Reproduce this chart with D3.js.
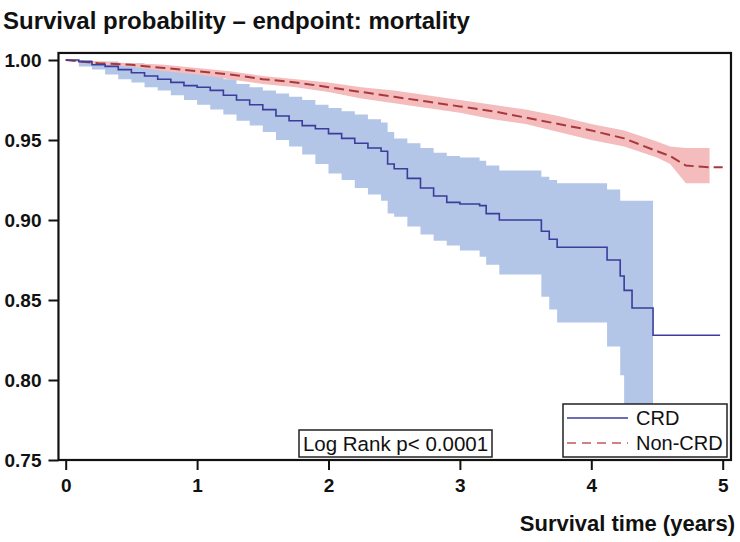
<!DOCTYPE html>
<html>
<head>
<meta charset="utf-8">
<script src="https://cdn.jsdelivr.net/npm/d3@7"></script>
<style>
  body { margin: 0; background: #fff; }
  text { font-family: "Liberation Sans", Arial, sans-serif; }
</style>
</head>
<body>
<div id="chart"></div>
<script>
// Kaplan-Meier estimates
var crdTime  = [0, 0.1, 0.2, 0.3, 0.4, 0.5, 0.6, 0.7, 0.8, 0.9, 1.0, 1.1, 1.2, 1.3, 1.4, 1.5, 1.6, 1.7, 1.8, 1.9, 2.0, 2.1, 2.2, 2.3, 2.4, 2.45, 2.5, 2.6, 2.7, 2.8, 2.9, 3.0, 3.15, 3.2, 3.3, 3.62, 3.68, 3.74, 4.12, 4.22, 4.25, 4.31, 4.47, 4.98];
var crdSurv  = [1.000, 0.999, 0.997, 0.996, 0.994, 0.992, 0.990, 0.988, 0.986, 0.984, 0.983, 0.981, 0.978, 0.975, 0.972, 0.969, 0.965, 0.962, 0.959, 0.957, 0.954, 0.951, 0.948, 0.945, 0.943, 0.935, 0.932, 0.926, 0.920, 0.915, 0.911, 0.910, 0.909, 0.904, 0.900, 0.893, 0.888, 0.883, 0.875, 0.865, 0.856, 0.845, 0.828, 0.828];
var crdLower = [1.000, 0.996, 0.994, 0.991, 0.988, 0.986, 0.983, 0.981, 0.978, 0.975, 0.972, 0.969, 0.966, 0.962, 0.959, 0.955, 0.950, 0.946, 0.941, 0.935, 0.929, 0.925, 0.920, 0.916, 0.912, 0.904, 0.902, 0.896, 0.891, 0.887, 0.884, 0.881, 0.877, 0.872, 0.866, 0.852, 0.844, 0.836, 0.821, 0.803, 0.764, 0.764, 0.764, null];
var crdUpper = [1.000, 1.000, 0.999, 0.999, 0.998, 0.998, 0.997, 0.996, 0.995, 0.994, 0.992, 0.990, 0.988, 0.985, 0.983, 0.981, 0.979, 0.977, 0.975, 0.972, 0.970, 0.968, 0.966, 0.963, 0.961, 0.955, 0.951, 0.948, 0.945, 0.942, 0.940, 0.939, 0.937, 0.934, 0.931, 0.927, 0.925, 0.923, 0.919, 0.912, 0.912, 0.912, 0.912, null];

var nonTime  = [0, 0.25, 0.5, 0.75, 1.0, 1.25, 1.5, 1.75, 2.0, 2.25, 2.5, 2.75, 3.0, 3.25, 3.5, 3.75, 4.0, 4.25, 4.5, 4.6, 4.72, 4.9, 5.0];
var nonSurv  = [1.000, 0.998, 0.997, 0.995, 0.993, 0.991, 0.988, 0.986, 0.983, 0.980, 0.977, 0.974, 0.971, 0.968, 0.964, 0.960, 0.956, 0.951, 0.943, 0.940, 0.934, 0.933, 0.933];
var nonLower = [1.000, 0.997, 0.996, 0.993, 0.991, 0.988, 0.985, 0.983, 0.980, 0.976, 0.973, 0.970, 0.967, 0.963, 0.960, 0.955, 0.950, 0.946, 0.939, 0.935, 0.923, 0.923, null];
var nonUpper = [1.000, 0.999, 0.998, 0.997, 0.995, 0.993, 0.990, 0.988, 0.986, 0.983, 0.981, 0.978, 0.975, 0.972, 0.969, 0.965, 0.960, 0.956, 0.949, 0.946, 0.945, 0.945, null];

var xTicks = [0, 1, 2, 3, 4, 5];
var yTicks = [0.75, 0.80, 0.85, 0.90, 0.95, 1.00];
var seriesNames = ["CRD", "Non-CRD"];

var width = 740, height = 542;

var svg = d3.select("#chart").append("svg")
    .attr("width", width)
    .attr("height", height);

//scales: 0..5 years, 0.75..1.00
var x = d3.scaleLinear().domain([0, 5]).range([65.7, 722.7]);
var y = d3.scaleLinear().domain([0.75, 1.00]).range([460, 60]);

var frame = {left: x(-0.055), right: x(5.063), top: y(1.0044), bottom: y(0.75)};

function rows(t, s, lo, hi) {
    return t.map(function(d, i) { return {t: d, s: s[i], lo: lo[i], hi: hi[i]}; });
}
var crd = rows(crdTime, crdSurv, crdLower, crdUpper);
var non = rows(nonTime, nonSurv, nonLower, nonUpper);

function band(curve) {
    return d3.area()
        .curve(curve)
        .x(function(d) { return x(d.t); })
        .y0(function(d) { return y(d.lo); })
        .y1(function(d) { return y(d.hi); });
}

//bands end at the last event time
svg.append("path")
    .datum(crd.filter(function(d) { return d.lo != null; }))
    .attr("fill", "#b3c6e7")
    .attr("d", band(d3.curveStepAfter));

svg.append("path")
    .datum(non.filter(function(d) { return d.lo != null; }))
    .attr("fill", "#f4bcbc")
    .attr("d", band(d3.curveLinear));

svg.append("path")
    .datum(non)
    .attr("fill", "none")
    .attr("stroke", "#a8383c")
    .attr("stroke-width", 2)
    .attr("stroke-dasharray", "10,5")
    .attr("d", d3.line().x(function(d) { return x(d.t); }).y(function(d) { return y(d.s); }));

svg.append("path")
    .datum(crd)
    .attr("fill", "none")
    .attr("stroke", "#3b3c9c")
    .attr("stroke-width", 1.6)
    .attr("d", d3.line().curve(d3.curveStepAfter).x(function(d) { return x(d.t); }).y(function(d) { return y(d.s); }));

//frame
svg.append("rect")
    .attr("x", frame.left)
    .attr("y", frame.top)
    .attr("width", frame.right - frame.left)
    .attr("height", frame.bottom - frame.top)
    .attr("fill", "none")
    .attr("stroke", "#111")
    .attr("stroke-width", 2.2);

//y axis
var yAxis = svg.append("g")
    .attr("transform", "translate(" + frame.left + ",0)")
    .call(d3.axisLeft(y).tickValues(yTicks).tickFormat(d3.format(".2f")).tickSize(10).tickPadding(7));
yAxis.select(".domain").remove();
yAxis.selectAll("line").attr("stroke", "#111").attr("stroke-width", 2);
yAxis.selectAll("text")
    .attr("font-size", 19)
    .attr("font-weight", "bold")
    .attr("font-family", "Liberation Sans, Arial, sans-serif")
    .attr("fill", "#111");

//x axis
var xAxis = svg.append("g")
    .attr("transform", "translate(0," + frame.bottom + ")")
    .call(d3.axisBottom(x).tickValues(xTicks).tickFormat(d3.format("d")).tickSize(10).tickPadding(9));
xAxis.select(".domain").remove();
xAxis.selectAll("line").attr("stroke", "#111").attr("stroke-width", 2);
xAxis.selectAll("text")
    .attr("font-size", 19)
    .attr("font-weight", "bold")
    .attr("font-family", "Liberation Sans, Arial, sans-serif")
    .attr("fill", "#111");

svg.append("text")
    .attr("x", 735)
    .attr("y", 531)
    .attr("text-anchor", "end")
    .attr("font-size", 22)
    .attr("font-weight", "bold")
    .attr("fill", "#111")
    .text("Survival time (years)");

svg.append("text")
    .attr("x", 3)
    .attr("y", 29)
    .attr("font-size", 24)
    .attr("fill", "#111")
    .style("font-weight", 600)
    .text("Survival probability \u2013 endpoint: mortality");

//log rank box
var lr = svg.append("g");
lr.append("rect")
    .attr("x", 299).attr("y", 430)
    .attr("width", 193).attr("height", 27)
    .attr("fill", "#fff")
    .attr("stroke", "#222")
    .attr("stroke-width", 1.5);
lr.append("text")
    .attr("x", 395.5).attr("y", 451)
    .attr("text-anchor", "middle")
    .attr("font-size", 20.5)
    .attr("fill", "#111")
    .text("Log Rank p< 0.0001");

//legend
var leg = svg.append("g").attr("transform", "translate(563,404)");
leg.append("rect")
    .attr("width", 164).attr("height", 53)
    .attr("fill", "#fff")
    .attr("stroke", "#222")
    .attr("stroke-width", 1.5);
var legStyles = [
    {stroke: "#3b3c9c", dash: null, width: 1.4},
    {stroke: "#c0585c", dash: "9,6", width: 1.4}
];
seriesNames.forEach(function(name, i) {
    var yy = 14 + i * 25;
    leg.append("line")
        .attr("x1", 4).attr("x2", 65)
        .attr("y1", yy).attr("y2", yy)
        .attr("stroke", legStyles[i].stroke)
        .attr("stroke-width", legStyles[i].width)
        .attr("stroke-dasharray", legStyles[i].dash);
    leg.append("text")
        .attr("x", 73).attr("y", yy + 7)
        .attr("font-size", 20)
        .attr("fill", "#111")
        .text(name);
});
</script>
</body>
</html>
